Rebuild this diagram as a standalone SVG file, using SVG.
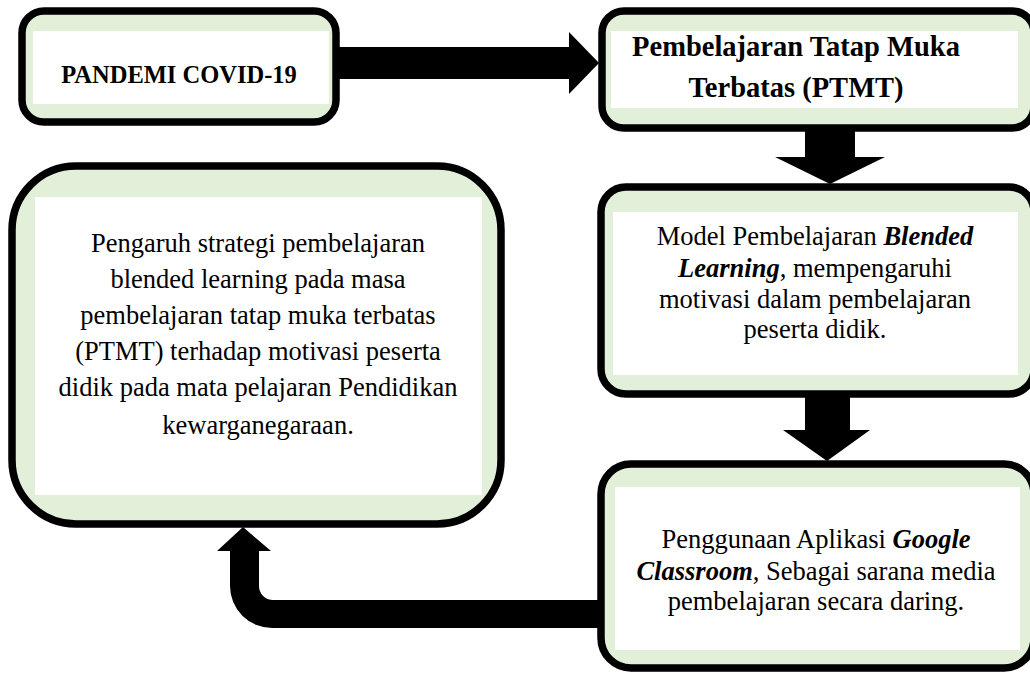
<svg xmlns="http://www.w3.org/2000/svg" width="1030" height="673" viewBox="0 0 1030 673">
  <style>
    .box { fill: #E2EFD9; stroke: #000; stroke-width: 7.5; }
    .inner { fill: #FFFFFF; }
    .arrow { fill: #000; stroke: none; }
    text { font-family: "Liberation Serif", "Times New Roman", serif; fill: #000; text-anchor: middle; }
    .t { font-size: 26.5px; }
    .h { font-size: 28.5px; font-weight: bold; }
    .bi { font-weight: bold; font-style: italic; }
  </style>
  <rect width="1030" height="673" fill="#FFFFFF"/>

  <g id="connectors">
    <polygon class="arrow" points="336,47 569,47 569,32 599,63 569,94 569,79 336,79"/>
    <polygon class="arrow" points="805,128 855,128 855,157 885,157 830,184 775,157 805,157"/>
    <polygon class="arrow" points="805,394 850,394 850,430 870,430 827,461 783,430 805,430"/>
    <path class="arrow" d="M604,600 L273,600 A14,14 0 0 1 259,586 L259,551 L271,551 L243,527 L217,551 L230,551 L230,586 A42,42 0 0 0 272,628 L604,628 Z"/>
  </g>

  <g id="node-pandemi">
    <rect class="box" x="22" y="11" width="314" height="111" rx="22"/>
    <rect class="inner" x="33" y="31" width="296" height="73"/>
    <text x="179" y="83" style="font-size:24.5px;font-weight:bold">PANDEMI COVID-19</text>
  </g>

  <g id="node-ptmt">
    <rect class="box" x="602" y="11" width="432" height="117" rx="22"/>
    <rect class="inner" x="611" y="31" width="407" height="77"/>
    <text class="h" x="796" y="56">Pembelajaran Tatap Muka</text>
    <text class="h" x="796" y="97">Terbatas (PTMT)</text>
  </g>

  <g id="node-blended">
    <rect class="box" x="601" y="187" width="433" height="207" rx="25"/>
    <rect class="inner" x="613" y="212" width="405" height="163"/>
    <text class="t" x="815" y="245">Model Pembelajaran <tspan class="bi">Blended</tspan></text>
    <text class="t" x="815" y="277"><tspan class="bi">Learning</tspan>, mempengaruhi</text>
    <text class="t" x="815" y="308">motivasi dalam pembelajaran</text>
    <text class="t" x="815" y="338">peserta didik.</text>
  </g>

  <g id="node-classroom">
    <rect class="box" x="601" y="464" width="433" height="204" rx="30"/>
    <rect class="inner" x="615" y="487" width="405" height="163"/>
    <text class="t" x="816" y="548">Penggunaan Aplikasi <tspan class="bi">Google</tspan></text>
    <text class="t" x="816" y="580"><tspan class="bi">Classroom</tspan>, Sebagai sarana media</text>
    <text class="t" x="816" y="610">pembelajaran secara daring.</text>
  </g>

  <g id="node-pengaruh">
    <rect class="box" x="12" y="166" width="489" height="358" rx="64"/>
    <rect class="inner" x="35" y="197" width="447" height="298"/>
    <text class="t" x="258" y="252">Pengaruh strategi pembelajaran</text>
    <text class="t" x="258" y="288">blended learning pada masa</text>
    <text class="t" x="258" y="324">pembelajaran tatap muka terbatas</text>
    <text class="t" x="258" y="360">(PTMT) terhadap motivasi peserta</text>
    <text class="t" x="258" y="396">didik pada mata pelajaran Pendidikan</text>
    <text class="t" x="258" y="434">kewarganegaraan.</text>
  </g>
</svg>
